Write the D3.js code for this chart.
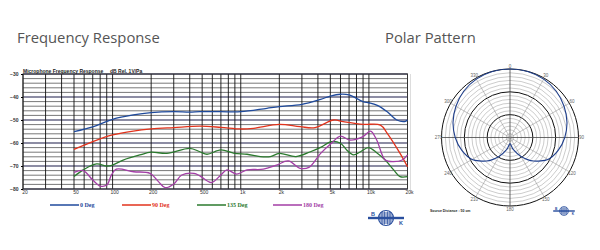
<!DOCTYPE html>
<html><head><meta charset="utf-8">
<script src="https://cdn.jsdelivr.net/npm/d3@7"></script>
<style>body{margin:0;background:#fff}svg{display:block}</style>
</head><body>
<svg id="c" width="600" height="250"></svg>
<script>
// ---- data ----
const freqTicks = [20, 50, 100, 200, 500, 1000, 2000, 5000, 10000, 20000];
const freqTickLabels = ["20", "50", "100", "200", "500", "1k", "2k", "5k", "10k", "20k"];
const dbTicks = [-30, -40, -50, -60, -70, -80];
const seriesNames = ["0 Deg", "90 Deg", "135 Deg", "180 Deg"];
const seriesColors = ["#1f4a9c", "#e2331c", "#2b7a2e", "#a33ea6"];
const deg0 = [[50,-55.1],[71,-52.9],[100,-49.7],[145,-47.8],[200,-46.8],[300,-46.4],[400,-46.6],[480,-46.4],[700,-46.4],[1000,-46.4],[1600,-44.9],[2000,-44.2],[3000,-43.2],[4200,-41],[5000,-39.6],[6000,-38.8],[7000,-39.1],[9000,-42],[10000,-42.5],[11500,-43.5],[13900,-46.4],[16500,-50],[19000,-50.7],[20000,-50]];
const deg90 = [[50,-62.8],[70,-59.4],[100,-56.5],[145,-54.8],[200,-53.9],[300,-53.3],[480,-52.7],[700,-53.2],[1000,-53.9],[1260,-53.6],[2000,-51.9],[2900,-52.9],[3800,-53.3],[5300,-50],[6300,-50.7],[9000,-51.9],[12300,-52.2],[13900,-55.8],[17500,-64.5],[20000,-70.3]];
const deg135 = [[50,-74.6],[59,-71.7],[75,-69.1],[90,-70],[100,-69.6],[121,-67.4],[163,-65.2],[200,-64],[265,-64.5],[400,-62.3],[480,-63.8],[545,-64.9],[700,-63],[890,-64.5],[1120,-64.9],[1420,-65.9],[1700,-65.9],[2000,-64.5],[2700,-65.9],[3500,-63.8],[4200,-61.9],[5100,-59.4],[6000,-60.1],[6700,-63],[7600,-65.2],[8600,-63.8],[9900,-62],[11500,-64.2],[13400,-67.4],[15600,-71.7],[17500,-74.6],[20000,-74.6]];
const deg180 = [[50,-72.8],[59,-72],[70,-76.1],[80,-78.7],[90,-78.3],[98,-73.9],[107,-71.4],[146,-72.5],[196,-73.2],[228,-76.8],[257,-79.4],[300,-77.8],[347,-73.9],[432,-73.2],[480,-74.3],[590,-77.2],[700,-73.9],[780,-71.7],[930,-73.5],[1120,-71.7],[1500,-71.4],[1900,-69.6],[2350,-67.8],[2900,-71],[3400,-70.6],[4200,-64.5],[5100,-60.1],[6000,-57],[7100,-58.7],[9000,-57.2],[10300,-54.8],[11500,-58.7],[13400,-67.4],[15600,-68.1],[18200,-67.4],[20000,-65.2]];
const seriesData = [deg0, deg90, deg135, deg180];
// polar pattern (dB) for angles 0..180, mirrored
const polarAngles = [0,15,30,45,60,75,90,105,120,135,150,165,180];
const polarDb = [0,-0.1,-0.6,-1.6,-3.2,-5.0,-7.2,-9.8,-13.0,-18.5,-24.5,-29.5,-32.8];
const polarSpokes = [0,30,60,90,120,150,180,210,240,270,300,330];

const svg = d3.select("#c");
const LBL = "'Liberation Sans', Arial, sans-serif";

// ---- titles ----
svg.append("text").attr("x",17).attr("y",43).text("Frequency Response")
  .attr("font-family","'Open Sans', sans-serif").attr("font-size",14.8).attr("fill","#555");
svg.append("text").attr("x",385).attr("y",43).text("Polar Pattern")
  .attr("font-family","'Open Sans', sans-serif").attr("font-size",14.8).attr("fill","#555");

// ---- frequency response ----
const x = d3.scaleLog().domain([20,20000]).range([23,407.5]);
const y = d3.scaleLinear().domain([-80,-30]).range([189,74]);
const g = svg.append("g");

// horizontal grid
const hLines = d3.range(-80,-29,2);
g.selectAll("line.h").data(hLines).join("line")
  .attr("x1",x(20)).attr("x2",x(20000)).attr("y1",d=>y(d)).attr("y2",d=>y(d))
  .attr("stroke",d=>d%10===0?"#1c1c4a":"#555").attr("stroke-width",d=>d%10===0?1.2:0.8);
// vertical grid
const vLines = [20,30,40,50,60,70,80,90,100,200,300,400,500,600,700,800,900,1000,2000,3000,4000,5000,6000,7000,8000,9000,10000,20000];
g.selectAll("line.v").data(vLines).join("line")
  .attr("x1",d=>x(d)).attr("x2",d=>x(d)).attr("y1",y(-30)).attr("y2",y(-80))
  .attr("stroke","#111").attr("stroke-width",0.9);
g.append("rect").attr("x",x(20)).attr("y",y(-30)).attr("width",x(20000)-x(20)).attr("height",y(-80)-y(-30))
  .attr("fill","none").attr("stroke","#333").attr("stroke-width",1);
g.append("line").attr("x1",x(20000)+3).attr("x2",x(20000)+3).attr("y1",y(-30)).attr("y2",y(-80)+4).attr("stroke","#ddd");

// axes
const yAxis = d3.axisLeft(y).tickValues(dbTicks).tickSize(2).tickFormat(d3.format("d"));
const ya = g.append("g").attr("transform",`translate(${x(20)},0)`).call(yAxis);
ya.select(".domain").remove();
ya.selectAll("text").attr("font-family",LBL).attr("font-size",5).attr("font-weight","bold").attr("fill","#333").attr("dx",0.5);
const xAxis = d3.axisBottom(x).tickValues(freqTicks).tickSize(0).tickFormat((d,i)=>freqTickLabels[i]);
const xa = g.append("g").attr("transform",`translate(0,${y(-80)})`).call(xAxis);
xa.select(".domain").remove();
xa.selectAll("text").attr("font-family",LBL).attr("font-size",5).attr("fill","#333").attr("dx",1.5).attr("dy",2);

g.append("text").attr("x",23).attr("y",72.5).text("Microphone Frequency Response")
  .attr("font-family",LBL).attr("font-size",5).attr("font-weight","bold").attr("fill","#222");
g.append("text").attr("x",110).attr("y",72.5).text("dB Rel. 1V/Pa")
  .attr("font-family",LBL).attr("font-size",5).attr("font-weight","bold").attr("fill","#222");

// curves
const line = d3.line().x(d=>x(d[0])).y(d=>y(d[1])).curve(d3.curveCatmullRom.alpha(0.5));
g.selectAll("path.s").data(seriesData).join("path")
  .attr("d",line).attr("fill","none").attr("stroke",(d,i)=>seriesColors[i]).attr("stroke-width",1.3);

// legend
const legX = [50,122,197,273];
const leg = g.selectAll("g.leg").data(seriesNames).join("g").attr("transform",(d,i)=>`translate(${legX[i]},205)`);
leg.append("line").attr("x1",0).attr("x2",29).attr("y1",0).attr("y2",0).attr("stroke",(d,i)=>seriesColors[i]).attr("stroke-width",1.5);
leg.append("text").attr("x",30).attr("y",2).text(d=>d).attr("font-family","'Liberation Serif', serif")
  .attr("font-size",6).attr("font-weight","bold").attr("fill",(d,i)=>seriesColors[i]);

// logo
function logo(cx, cy, s){
  const lg = svg.append("g").attr("transform",`translate(${cx},${cy}) scale(${s})`);
  lg.append("circle").attr("r",7.5).attr("fill","#fff").attr("stroke","#2a4f9e").attr("stroke-width",1.2);
  d3.range(-5,6,2).forEach(v=>{ const w=Math.sqrt(52-v*v);
    lg.append("line").attr("x1",-w).attr("x2",w).attr("y1",v).attr("y2",v).attr("stroke","#2a4f9e").attr("stroke-width",0.9);});
  [-4,-1.5,1.5,4].forEach(v=>lg.append("line").attr("x1",v).attr("x2",v).attr("y1",-6.5).attr("y2",6.5).attr("stroke","#2a4f9e").attr("stroke-width",0.7));
  lg.append("rect").attr("x",-18).attr("y",-1.2).attr("width",36).attr("height",2.4).attr("fill","#2a4f9e");
  lg.append("text").attr("x",-15).attr("y",-2).text("B").attr("font-family",LBL).attr("font-weight","bold").attr("font-size",5.5).attr("fill","#2a4f9e");
  lg.append("text").attr("x",13).attr("y",6.5).text("K").attr("font-family",LBL).attr("font-weight","bold").attr("font-size",5.5).attr("fill","#2a4f9e");
}
logo(386,218,1);
logo(564,211,0.6);

// ---- polar ----
const pcx = 510, pcy = 137.5, R = 68.5;
const r = d3.scaleLinear().domain([-36,0]).range([0,R]);
const p = svg.append("g").attr("transform",`translate(${pcx},${pcy})`);
const rings = d3.range(-34,1,2);
p.selectAll("circle.r").data(rings).join("circle").attr("r",d=>r(d)).attr("fill","none")
  .attr("stroke",d=>d%12===0?"#111":"#aaa").attr("stroke-width",d=>d%12===0?1:0.6);
p.selectAll("line.sp").data(polarSpokes).join("line")
  .attr("x1",0).attr("y1",0)
  .attr("x2",d=>R*Math.sin(d*Math.PI/180)).attr("y2",d=>-R*Math.cos(d*Math.PI/180))
  .attr("stroke",d=>d%90===0?"#444":"#999").attr("stroke-width",d=>d%90===0?0.8:0.6);
p.selectAll("text.sl").data(polarSpokes).join("text")
  .attr("x",d=>(R+3)*Math.sin(d*Math.PI/180)).attr("y",d=>-(R+3)*Math.cos(d*Math.PI/180)+1.5)
  .attr("text-anchor","middle").text(d=>d).attr("font-family",LBL).attr("font-size",4.5).attr("fill","#666");
// pattern
const full = polarAngles.map((a,i)=>[a,polarDb[i]]);
const mirrored = polarAngles.slice(0,-1).reverse().map((a,i)=>[360-a, polarDb[polarAngles.length-2-i]]);
const pts = full.concat(mirrored);
const radial = d3.lineRadial().angle(d=>d[0]*Math.PI/180).radius(d=>r(d[1])).curve(d3.curveCardinalClosed.tension(0.2));
p.append("path").datum(pts.slice(0,-1)).attr("d",radial).attr("fill","none").attr("stroke","#1f3f8c").attr("stroke-width",1.1);
svg.append("text").attr("x",430).attr("y",212).text("Source Distance : 50 cm")
  .attr("font-family",LBL).attr("font-size",3.5).attr("font-weight","bold").attr("fill","#222");
</script>
</body></html>
